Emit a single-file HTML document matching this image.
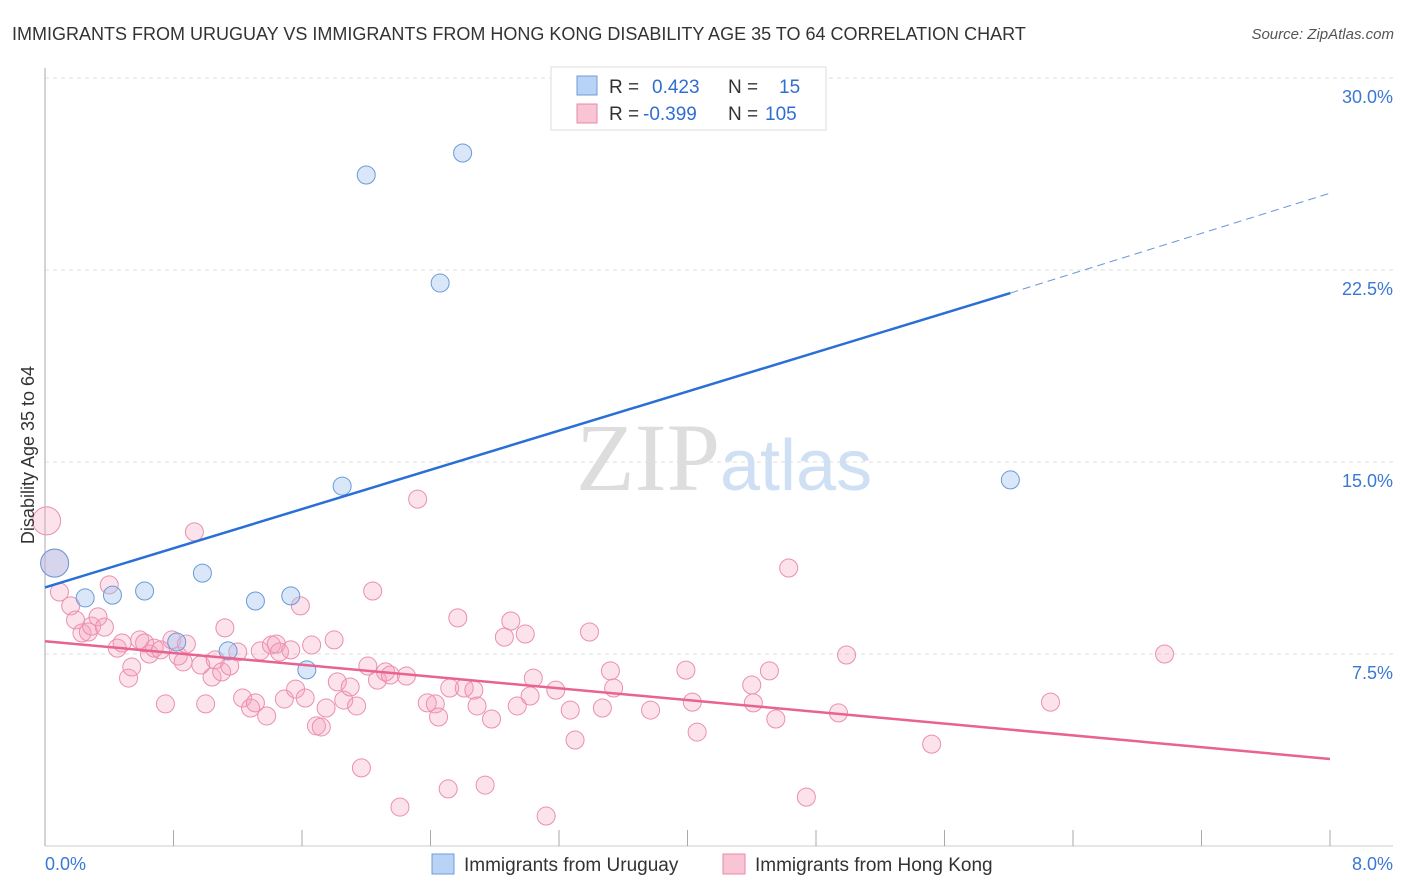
<!DOCTYPE html>
<html><head><meta charset="utf-8">
<style>
body{margin:0;background:#fff;font-family:"Liberation Sans",sans-serif;}
svg{display:block}
</style></head><body>
<svg id="chart" width="1406" height="892" viewBox="0 0 1406 892">
<text x="12" y="40" font-size="18" fill="#333">IMMIGRANTS FROM URUGUAY VS IMMIGRANTS FROM HONG KONG DISABILITY AGE 35 TO 64 CORRELATION CHART</text>
<text x="1394" y="39" font-size="15" fill="#555" font-style="italic" text-anchor="end">Source: ZipAtlas.com</text>
<g id="grid"></g>
<text x="720" y="490" font-size="96" font-family="Liberation Serif" fill="#ddd" text-anchor="end">ZIP</text>
<text x="720" y="490" font-size="72" fill="#cfe0f4">atlas</text>
<g id="axes"></g>
<g id="marks"></g>
<text transform="translate(34,455) rotate(-90)" font-size="18" fill="#333" text-anchor="middle">Disability Age 35 to 64</text>
<g>
<rect x="551" y="67" width="275" height="63" fill="#fff" stroke="#ddd"/>
<rect x="577" y="76" width="20" height="19" fill="#b8d3f5" stroke="#6e9bd9"/>
<rect x="577" y="104" width="20" height="19" fill="#f9c4d4" stroke="#e88aa8"/>
<text x="609" y="93" font-size="19" fill="#333">R = <tspan fill="#2f6fd0" x="652">0.423</tspan><tspan x="728" fill="#333">N =</tspan><tspan x="779" fill="#2f6fd0">15</tspan></text>
<text x="609" y="120" font-size="19" fill="#333">R = <tspan fill="#2f6fd0" x="643">-0.399</tspan><tspan x="728" fill="#333">N =</tspan><tspan x="765" fill="#2f6fd0">105</tspan></text>
</g>
<g>
<rect x="432" y="854" width="22" height="20" fill="#b8d3f5" stroke="#6e9bd9"/>
<text x="464" y="871" font-size="19" fill="#333">Immigrants from Uruguay</text>
<rect x="723" y="854" width="22" height="20" fill="#f9c4d4" stroke="#e88aa8"/>
<text x="755" y="871" font-size="19" fill="#333">Immigrants from Hong Kong</text>
</g>
</svg>
<script>
const yTicks=[7.5,15,22.5,30];
const yTickLabels=["7.5%","15.0%","22.5%","30.0%"];
const xTickCount=10;
const blueX=[0.06,0.25,0.42,0.62,0.82,0.98,1.14,1.31,1.53,1.63,1.85,2.00,2.46,2.60,6.01];
const blueY=[11.05,9.69,9.80,9.96,7.97,10.66,7.62,9.57,9.77,6.88,14.06,26.21,21.99,27.07,14.30];
const pinkX=[0.01,0.06,0.09,0.16,0.19,0.23,0.27,0.29,0.33,0.37,0.40,0.45,0.48,0.52,0.54,0.59,0.62,0.65,0.68,0.72,0.75,0.79,0.83,0.86,0.88,0.93,0.97,1.00,1.04,1.06,1.10,1.12,1.15,1.20,1.23,1.28,1.31,1.34,1.38,1.41,1.44,1.46,1.49,1.53,1.56,1.59,1.62,1.66,1.69,1.72,1.75,1.80,1.82,1.86,1.90,1.94,1.97,2.01,2.04,2.07,2.12,2.15,2.21,2.25,2.32,2.38,2.43,2.45,2.51,2.52,2.57,2.61,2.67,2.69,2.74,2.78,2.86,2.90,2.94,2.99,3.02,3.04,3.12,3.18,3.27,3.30,3.39,3.47,3.52,3.54,3.77,3.99,4.03,4.06,4.40,4.41,4.51,4.55,4.63,4.74,4.94,4.99,5.52,6.26,6.97];
const pinkY=[12.70,11.05,9.92,9.38,8.83,8.32,8.36,8.59,8.95,8.55,10.20,7.73,7.93,6.56,6.99,8.05,7.93,7.50,7.73,7.66,5.55,8.05,7.42,7.19,7.89,12.27,7.07,5.55,6.60,7.27,6.80,8.52,7.03,7.58,5.78,5.39,5.59,7.62,5.08,7.85,7.89,7.58,5.74,7.66,6.13,9.38,5.78,7.85,4.69,4.65,5.39,8.05,6.41,5.70,6.21,5.47,3.05,7.03,9.96,6.48,6.80,6.68,1.52,6.64,13.55,5.59,5.55,5.04,2.23,6.17,8.91,6.17,6.09,5.47,2.38,4.96,8.16,8.79,5.47,8.28,5.86,6.56,1.17,6.09,5.31,4.14,8.36,5.39,6.84,6.17,5.31,6.87,5.62,4.45,6.29,5.59,6.84,4.96,10.86,1.91,5.20,7.46,3.98,5.62,7.50];
const blueTrend=[[0,10.1],[6.01,21.6],[8,25.5]];
const pinkTrend=[[0,8.0],[8,3.4]];
const NS="http://www.w3.org/2000/svg";
const X=v=>45+v/8*1285, Y=v=>846-v/7.5*192;
function mk(tag,attrs,parent){const e=document.createElementNS(NS,tag);for(const k in attrs)e.setAttribute(k,attrs[k]);parent.appendChild(e);return e;}
const grid=document.getElementById('grid'),axes=document.getElementById('axes'),marks=document.getElementById('marks');
yTicks.forEach((t,i)=>{
 const l=mk('line',{x1:45,x2:1393,y1:Y(t),y2:Y(t),stroke:'#ddd','stroke-dasharray':'4,4'},grid);
 
 
 const tx=mk('text',{x:1393,y:Y(t)+25,'font-size':18,fill:'#3b78d4','text-anchor':'end'},axes);
 tx.textContent=yTickLabels[i];
 
 
});
const ax=mk('line',{x1:45,x2:45,y1:68,y2:846,stroke:'#aaa'},axes);


const bx=mk('line',{x1:45,x2:1393,y1:846,y2:846,stroke:'#ccc'},axes);


for(let i=0;i<=xTickCount;i++){
 const t=mk('line',{x1:X(i*0.8),x2:X(i*0.8),y1:830,y2:846,stroke:'#aaa'},axes);
 
 
}
[["0.0%",45,'start'],["8.0%",1393,'end']].forEach(a=>{
 const t=mk('text',{x:a[1],y:870,'font-size':18,fill:'#3b78d4','text-anchor':a[2]},axes);
 t.textContent=a[0];
 
 
});
pinkX.forEach((x,i)=>{
 const c=mk('circle',{cx:X(x),cy:Y(pinkY[i]),r:i<2?14:9,fill:'rgba(246,160,190,0.3)',stroke:'#eb8fae','stroke-width':1},marks);
 
 
});
blueX.forEach((x,i)=>{
 const c=mk('circle',{cx:X(x),cy:Y(blueY[i]),r:i==0?14:9,fill:'rgba(160,195,240,0.4)',stroke:'#6a9ad8','stroke-width':1},marks);
 
 
});
const b1=mk('line',{x1:X(blueTrend[0][0]),y1:Y(blueTrend[0][1]),x2:X(blueTrend[1][0]),y2:Y(blueTrend[1][1]),stroke:'#2a6fd6','stroke-width':2.5},marks);


const b2=mk('line',{x1:X(blueTrend[1][0]),y1:Y(blueTrend[1][1]),x2:X(blueTrend[2][0]),y2:Y(blueTrend[2][1]),stroke:'#6a9ad8','stroke-width':1,'stroke-dasharray':'8,5'},marks);


const p1=mk('line',{x1:X(pinkTrend[0][0]),y1:Y(pinkTrend[0][1]),x2:X(pinkTrend[1][0]),y2:Y(pinkTrend[1][1]),stroke:'#e8638f','stroke-width':2.5},marks);


</script>
</body></html>
